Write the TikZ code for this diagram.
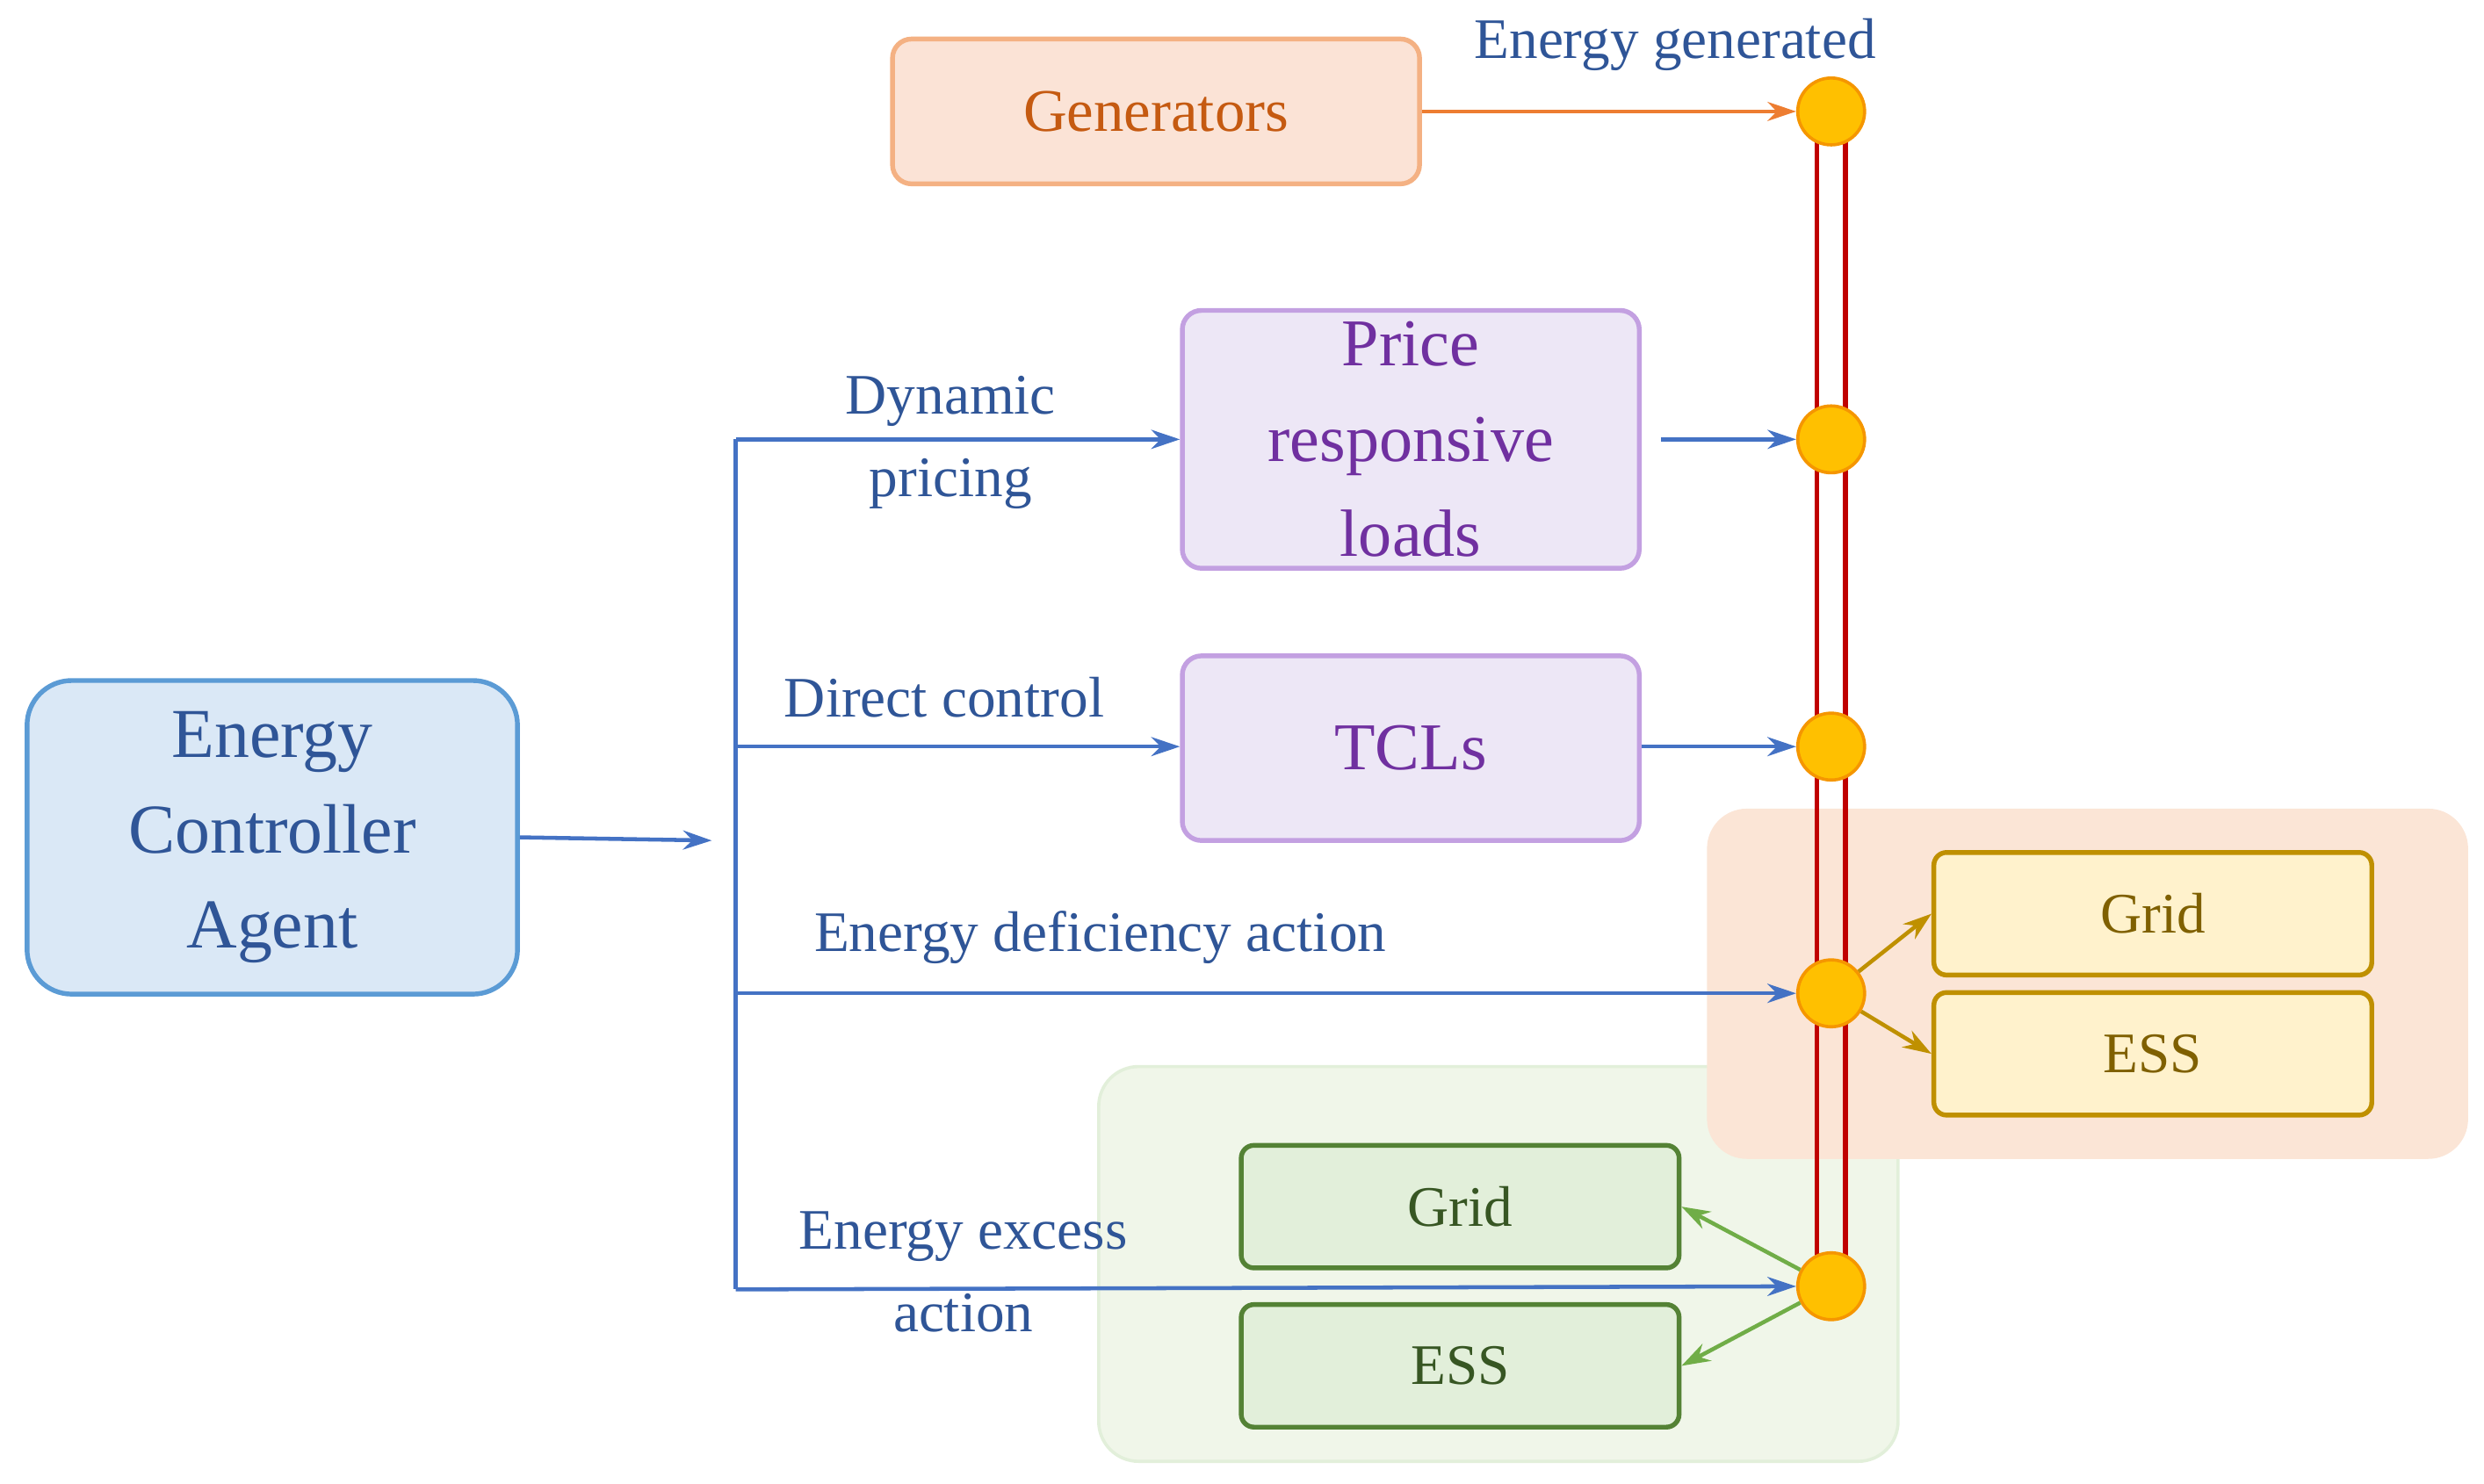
\documentclass[tikz,border=0pt]{standalone}
\usepackage{fontspec}
\setmainfont{Liberation Serif}
\usetikzlibrary{arrows.meta}
\definecolor{bl}{HTML}{4472C4}
\definecolor{bltx}{HTML}{2F5597}
\definecolor{gbg}{RGB}{240,246,233}
\definecolor{gbgd}{RGB}{226,239,218}
\definecolor{obg}{RGB}{251,229,214}
\definecolor{genf}{RGB}{251,227,214}
\definecolor{gend}{RGB}{244,177,131}
\definecolor{gent}{RGB}{197,90,17}
\definecolor{purf}{RGB}{237,231,246}
\definecolor{purd}{RGB}{195,160,225}
\definecolor{purt}{RGB}{112,48,160}
\definecolor{ecaf}{RGB}{218,232,246}
\definecolor{ecad}{RGB}{91,155,213}
\definecolor{goldf}{RGB}{255,242,204}
\definecolor{goldd}{RGB}{191,144,0}
\definecolor{goldt}{RGB}{127,96,0}
\definecolor{grnf}{RGB}{226,239,218}
\definecolor{grnd}{RGB}{84,130,53}
\definecolor{grnt}{RGB}{55,86,35}
\definecolor{grna}{RGB}{112,173,71}
\definecolor{busr}{RGB}{192,0,0}
\definecolor{cfill}{RGB}{255,192,0}
\definecolor{cdraw}{RGB}{245,150,0}
\definecolor{gena}{RGB}{237,125,49}
\tikzset{
 box/.style={draw, rounded corners=12pt, line width=3pt, minimum width=#1},
 lbl/.style={text=bltx, font=\fontsize{36}{40}\selectfont, align=center},
 bus/.style={circle, fill=cfill, draw=cdraw, line width=2pt, minimum size=42pt, inner sep=0pt},
 barr/.style={bl, line width=2.5pt, -{Stealth[length=18pt,width=12pt]}},
 tip/.style={line width=2.5pt, -{Stealth[length=18pt,width=12pt]}},
 gold/.style={box=275pt, minimum height=77pt, rounded corners=8pt, fill=goldf, draw=goldd, text=goldt, font=\fontsize{36}{40}\selectfont},
 grn/.style={box=275pt, minimum height=77pt, rounded corners=8pt, fill=grnf, draw=grnd, text=grnt, font=\fontsize{36}{40}\selectfont},
}
\begin{document}
\begin{tikzpicture}[x=1pt,y=-1pt]
\useasboundingbox (0,0) rectangle (1560,932);
% backgrounds
\filldraw[rounded corners=25pt, fill=gbg, draw=gbgd, line width=2pt] (690,670) rectangle (1192,918);
\fill[rounded corners=25pt, obg] (1072,508) rectangle (1550,728);
% boxes
\node[box=331pt, minimum height=91pt, fill=genf, draw=gend, text=gent, font=\fontsize{38}{42}\selectfont] (gen) at (726,70) {Generators};
\node[box=287pt, minimum height=162pt, fill=purf, draw=purd, text=purt, font=\fontsize{42}{60}\selectfont, align=center] (prl) at (886,276) {Price\\responsive\\loads};
\node[box=287pt, minimum height=116pt, fill=purf, draw=purd, text=purt, font=\fontsize{42}{46}\selectfont] (tcl) at (886,470) {TCLs};
\node[box=308pt, minimum height=197pt, rounded corners=28pt, fill=ecaf, draw=ecad, text=bltx, font=\fontsize{44}{60}\selectfont, align=center] (eca) at (171,526) {Energy\\Controller\\Agent};
\node[gold] (ggrid) at (1352,574) {Grid};
\node[gold] (gess) at (1352,662) {ESS};
\node[grn] (ngrid) at (917,758) {Grid};
\node[grn] (ness) at (917,858) {ESS};
% bus lines
\draw[busr, line width=3pt] (1141,70) -- (1141,808) (1159,70) -- (1159,808);
\node[bus] (c1) at (1150,70) {};
\node[bus] (c2) at (1150,276) {};
\node[bus] (c3) at (1150,469) {};
\node[bus] (c4) at (1150,624) {};
\node[bus] (c5) at (1150,808) {};
% control lines
\coordinate (t) at (462,276);
\coordinate (b) at (462,810);
\coordinate (m3) at (462,469);
\coordinate (m4) at (462,624);
\coordinate (ein) at (447,528);
\coordinate (pout) at (1043,276);
\draw[bl, line width=2.5pt] (t) -- (b);
\draw[barr] (eca.east |- 0,526) -- (ein);
\draw[barr] (t) -- (prl.west |- t);
\draw[barr] (m3) -- (tcl.west |- m3);
\draw[barr] (m4) -- (c4);
\draw[barr] (b) -- (c5);
\draw[barr] (pout) -- (c2);
\draw[barr] (tcl.east |- c3) -- (c3);
\draw[tip, gena] (gen.east |- c1) -- (c1);
\draw[tip, goldd] (c4) -- (ggrid.west);
\draw[tip, goldd] (c4) -- (gess.west);
\draw[tip, grna] (c5) -- (ngrid.east);
\draw[tip, grna] (c5) -- (ness.east);
% labels
\node[lbl] (l1) at (1052,28) {Energy generated};
\node[lbl, font=\fontsize{36}{52}\selectfont] (l2) at (597,278) {Dynamic\\pricing};
\node[lbl] (l3) at (593,438) {Direct control};
\node[lbl] (l4) at (691,589) {Energy deficiency action};
\node[lbl, font=\fontsize{36}{52}\selectfont] (l5) at (605,799) {Energy excess\\action};
\end{tikzpicture}
\end{document}
